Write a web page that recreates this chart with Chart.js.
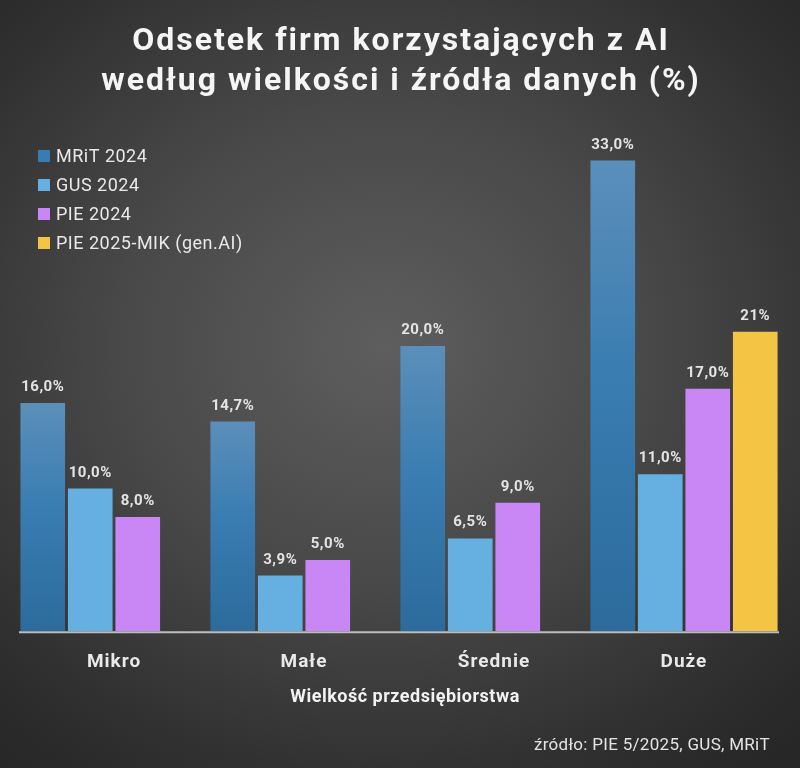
<!DOCTYPE html>
<html lang="pl">
<head>
<meta charset="utf-8">
<script src="https://cdn.jsdelivr.net/npm/chart.js@4.4.1/dist/chart.umd.min.js"></script>
<style>
  html, body { margin: 0; padding: 0; }
  #wrap {
    width: 800px; height: 768px; position: relative;
    background: radial-gradient(ellipse 75% 70% at 48% 45%, #5e5e5e 0%, #484848 45%, #2e2e2e 85%, #272727 100%);
  }
  canvas { display: block; }
</style>
</head>
<body>
<div id="wrap"><canvas id="aiChart" width="800" height="768"></canvas></div>
<script>
// Kategorie i dane (%)
const kategorie = ["Mikro", "Małe", "Średnie", "Duże"];
const mrit2024 = [16.0, 14.7, 20.0, 33.0];
const gus2024 = [10.0, 3.9, 6.5, 11.0];
const pie2024 = [8.0, 5.0, 9.0, 17.0];
const pie2025 = [null, null, null, 21];
const nazwySerii = ["MRiT 2024", "GUS 2024", "PIE 2024", "PIE 2025-MIK (gen.AI)"];
const miejscaPoPrzecinku = [1, 1, 1, 0];
const tytul = ["Odsetek firm korzystających z AI", "według wielkości i źródła danych (%)"];

const bialy = "#e9e9e9";
const czcionka = "Roboto, 'Open Sans', sans-serif";

// gradient dla słupków MRiT (jaśniejszy u góry)
function gradientMrit(context) {
    const chart = context.chart;
    if (!chart.chartArea) return "#3a7cb0";
    const v = context.raw;
    if (v == null) return "#3a7cb0";
    const y = chart.scales.y;
    const top = y.getPixelForValue(v);
    const base = y.getPixelForValue(0);
    const g = chart.ctx.createLinearGradient(0, top, 0, base);
    g.addColorStop(0, "#5b8fba");
    g.addColorStop(0.45, "#3a7db1");
    g.addColorStop(1, "#2c6b9c");
    return g;
}

// tytuł, etykiety wartości, legenda, opis osi i źródło
const dodatki = {
    id: "dodatki",
    beforeDraw(chart) {
        chart.ctx.letterSpacing = "1px"; // dla etykiet osi X
    },
    afterDatasetsDraw(chart) {
        const ctx = chart.ctx;
        ctx.save();

        // linia osi X na wierzchu
        const area = chart.chartArea;
        ctx.strokeStyle = "#bdbdbd";
        ctx.lineWidth = 2;
        ctx.beginPath();
        ctx.moveTo(area.left, area.bottom + 1);
        ctx.lineTo(area.right, area.bottom + 1);
        ctx.stroke();

        // tytuł
        ctx.fillStyle = "#f5f5f5";
        ctx.font = "bold 32px " + czcionka;
        ctx.letterSpacing = "2px";
        ctx.textAlign = "center";
        ctx.textBaseline = "middle";
        ctx.fillText(tytul[0], 401, 42);
        ctx.fillText(tytul[1], 401, 82);

        // wartości nad słupkami
        ctx.fillStyle = "#e4e4e4";
        ctx.font = "bold 15px " + czcionka;
        ctx.letterSpacing = "0.5px";
        ctx.textBaseline = "alphabetic";
        chart.data.datasets.forEach((ds, i) => {
            const meta = chart.getDatasetMeta(i);
            meta.data.forEach((bar, j) => {
                const v = ds.data[j];
                if (v == null) return;
                const txt = v.toFixed(miejscaPoPrzecinku[i]).replace(".", ",") + "%";
                ctx.fillText(txt, bar.x, bar.y - 12);
            });
        });

        // legenda
        ctx.textAlign = "left";
        ctx.textBaseline = "middle";
        ctx.font = "18px " + czcionka;
        ctx.letterSpacing = "0.5px";
        chart.data.datasets.forEach((ds, i) => {
            const y = 156 + i * 29;
            ctx.fillStyle = ds.legendColor;
            ctx.fillRect(38, y - 6, 12, 12);
            ctx.fillStyle = bialy;
            ctx.fillText(ds.label, 56, y + 1);
        });

        // opis osi X
        ctx.textAlign = "center";
        ctx.font = "bold 18px " + czcionka;
        ctx.fillStyle = "#f2f2f2";
        ctx.fillText("Wielkość przedsiębiorstwa", 405, 697);

        // źródło
        ctx.textAlign = "right";
        ctx.font = "17px " + czcionka;
        ctx.letterSpacing = "0.3px";
        ctx.fillStyle = "#e4e4e4";
        ctx.fillText("źródło: PIE 5/2025, GUS, MRiT", 770, 746);
        ctx.restore();
    }
};

const ctx = document.getElementById("aiChart").getContext("2d");
new Chart(ctx, {
    type: "bar",
    data: {
        labels: kategorie,
        datasets: [
            { label: nazwySerii[0], data: mrit2024, backgroundColor: gradientMrit, legendColor: "#3a7cb0" },
            { label: nazwySerii[1], data: gus2024, backgroundColor: "#65b0e0", legendColor: "#65b0e0" },
            { label: nazwySerii[2], data: pie2024, backgroundColor: "#c986f5", legendColor: "#c986f5" },
            { label: nazwySerii[3], data: pie2025, backgroundColor: "#f4c444", legendColor: "#f4c444" }
        ]
    },
    options: {
        responsive: false,
        animation: false,
        devicePixelRatio: 1,
        categoryPercentage: 1.0,
        barPercentage: 0.94,
        layout: { padding: { left: 19, right: 21, top: 132, bottom: 82 } },
        scales: {
            x: {
                grid: { display: false },
                border: { display: false },
                ticks: {
                    color: bialy,
                    padding: 12,
                    font: { family: czcionka, size: 19, weight: "bold" }
                }
            },
            y: {
                display: false,
                min: 0,
                max: 35
            }
        },
        plugins: {
            legend: { display: false },
            tooltip: { enabled: false },
            title: { display: false }
        }
    },
    plugins: [dodatki]
});
</script>
</body>
</html>
